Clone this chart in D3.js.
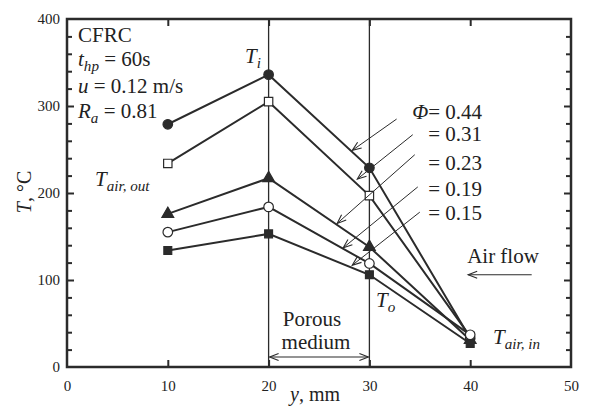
<!DOCTYPE html>
<html><head><meta charset="utf-8">
<script src="https://cdn.jsdelivr.net/npm/d3@7"></script>
<style>
html,body{margin:0;padding:0;background:#fff;}
svg{display:block;}
svg text{font-family:"Liberation Serif","DejaVu Serif",serif !important;}
</style></head>
<body>
<svg id="chart" width="593" height="411"></svg>
<script>
// ---- data ----
const yPositions = [10, 20, 30, 40];           // y, mm
const phiLabels = ["0.44", "0.31", "0.23", "0.19", "0.15"];
const tPhi044 = [279, 336, 229, 33];
const tPhi031 = [234, 305, 197, 35];
const tPhi023 = [176, 217, 138, 31];
const tPhi019 = [155, 184, 119, 37];
const tPhi015 = [134, 153, 106, 27];
const xTicks = [0, 10, 20, 30, 40, 50];
const yTicks = [0, 100, 200, 300, 400];
const yMinor = [20, 40, 60, 80, 120, 140, 160, 180, 220, 240, 260, 280, 320, 340, 360, 380];
const mediumBounds = [20, 30];
// annotation arrows for Φ labels (data units): [x1,y1,x2,y2]
const phiArrows = [
  [32.7, 285, 28.3, 249],
  [34.3, 267, 28.8, 216],
  [34.5, 244, 26.8, 165],
  [34.8, 207, 27.4, 137],
  [35.0, 178, 28.3, 117]
];

const seriesList = [
  {name: phiLabels[0], values: tPhi044, symbol: d3.symbolCircle, size: 72, filled: true},
  {name: phiLabels[1], values: tPhi031, symbol: d3.symbolSquare, size: 70, filled: false},
  {name: phiLabels[2], values: tPhi023, symbol: d3.symbolTriangle, size: 60, filled: true},
  {name: phiLabels[3], values: tPhi019, symbol: d3.symbolCircle, size: 72, filled: false},
  {name: phiLabels[4], values: tPhi015, symbol: d3.symbolSquare, size: 62, filled: true}
];

const ink = "#2b2b2b";
const FONT = "Liberation Serif, DejaVu Serif, serif";
const svg = d3.select("#chart");
svg.append("rect").attr("width", 593).attr("height", 411).attr("fill", "#fff");

const L = 67, R = 571, T = 19, B = 367;
const x = d3.scaleLinear().domain([0, 50]).range([L, R]);
const y = d3.scaleLinear().domain([0, 400]).range([B, T]);

const defs = svg.append("defs");
defs.append("marker").attr("id", "vhead").attr("viewBox", "-10 -5 12 10")
  .attr("refX", 0).attr("refY", 0).attr("markerWidth", 12).attr("markerHeight", 10)
  .attr("markerUnits", "userSpaceOnUse").attr("orient", "auto-start-reverse")
  .append("path").attr("d", "M-9,-3.5 L0,0 L-9,3.5").attr("fill", "none")
  .attr("stroke", ink).attr("stroke-width", 1.1);

// vertical lines marking porous medium
svg.selectAll(".vline").data(mediumBounds).enter().append("line")
  .attr("x1", d => x(d)).attr("x2", d => x(d)).attr("y1", T).attr("y2", B)
  .attr("stroke", ink).attr("stroke-width", 1.3);

// axes (ticks inward)
function styleAxis(g) {
  g.attr("font-family", FONT);
  g.select(".domain").remove();
  g.selectAll(".tick line").attr("stroke", ink).attr("stroke-width", 2);
  g.selectAll(".tick text").attr("fill", "#222").attr("font-size", 15)
   .attr("font-family", FONT);
}
svg.append("g").attr("transform", `translate(0,${B})`)
  .call(d3.axisBottom(x).tickValues(xTicks).tickSize(-7).tickPadding(13).tickFormat(d3.format("d")))
  .call(styleAxis)
  .call(g => g.selectAll(".tick line").filter(d => d === 0 || d === 50).remove());
svg.append("g").attr("transform", `translate(0,${T})`)
  .call(d3.axisTop(x).tickValues([10, 20, 30, 40]).tickSize(-7).tickFormat(""))
  .call(styleAxis);
svg.append("g").attr("transform", `translate(${L},0)`)
  .call(d3.axisLeft(y).tickValues(yTicks).tickSize(-7).tickPadding(7).tickFormat(d3.format("d")))
  .call(styleAxis)
  .call(g => g.selectAll(".tick line").filter(d => d === 0 || d === 400).remove());
svg.append("g").attr("transform", `translate(${L},0)`)
  .call(d3.axisLeft(y).tickValues(yMinor).tickSize(-5).tickFormat(""))
  .call(styleAxis);
svg.append("g").attr("transform", `translate(${R},0)`)
  .call(d3.axisRight(y).tickValues(yTicks.slice(1, 4)).tickSize(-7).tickFormat(""))
  .call(styleAxis);
svg.append("g").attr("transform", `translate(${R},0)`)
  .call(d3.axisRight(y).tickValues(yMinor).tickSize(-5).tickFormat(""))
  .call(styleAxis);

// frame
svg.append("rect").attr("x", L).attr("y", T).attr("width", R - L).attr("height", B - T)
  .attr("fill", "none").attr("stroke", ink).attr("stroke-width", 2.5);

// series lines
const line = d3.line().x((d, i) => x(yPositions[i])).y(d => y(d));
seriesList.forEach(s => {
  svg.append("path").datum(s.values).attr("d", line)
    .attr("fill", "none").attr("stroke", ink).attr("stroke-width", 2);
});
seriesList.forEach(s => {
  svg.append("g").selectAll("path").data(s.values).enter().append("path")
    .attr("transform", (d, i) => `translate(${x(yPositions[i])},${y(d)})`)
    .attr("d", d3.symbol().type(s.symbol).size(s.size))
    .attr("fill", s.filled ? ink : "#fff")
    .attr("stroke", ink).attr("stroke-width", 1.2);
});

// Φ annotation arrows
svg.selectAll(".phiArrow").data(phiArrows).enter().append("line")
  .attr("x1", d => x(d[0])).attr("y1", d => y(d[1]))
  .attr("x2", d => x(d[2])).attr("y2", d => y(d[3]))
  .attr("stroke", ink).attr("stroke-width", 1)
  .attr("marker-end", "url(#vhead)");

// porous medium double arrow
svg.append("line").attr("x1", x(mediumBounds[0]) + 1).attr("x2", x(mediumBounds[1]) - 1)
  .attr("y1", y(11.5)).attr("y2", y(11.5))
  .attr("stroke", ink).attr("stroke-width", 1.1)
  .attr("marker-start", "url(#vhead)").attr("marker-end", "url(#vhead)");

// air flow arrow
svg.append("line").attr("x1", x(46.1)).attr("x2", x(39.8))
  .attr("y1", y(106)).attr("y2", y(106))
  .attr("stroke", ink).attr("stroke-width", 1.1)
  .attr("marker-end", "url(#vhead)");

// ---- texts ----
const fs = 21;
function txt(xp, yp, parts, opts = {}) {
  const t = svg.append("text").attr("x", xp).attr("y", yp)
    .attr("font-family", FONT)
    .attr("font-size", opts.size || fs).attr("fill", "#222")
    .attr("text-anchor", opts.anchor || "start");
  if (opts.rotate) t.attr("transform", `rotate(${opts.rotate},${xp},${yp})`);
  parts.forEach(p => {
    const s = t.append("tspan").text(p.t);
    if (p.i) s.attr("font-style", "italic");
    if (p.sub) s.attr("dy", 5).attr("font-size", (opts.size || fs) * 0.72);
    if (p.up) s.attr("dy", -5);
  });
  return t;
}
txt(78, 42, [{t: "CFRC"}]);
txt(78, 66, [{t: "t", i: 1}, {t: "hp", i: 1, sub: 1}, {t: " = 60s", up: 1}]);
txt(78, 93, [{t: "u", i: 1}, {t: " = 0.12 m/s"}]);
txt(78, 118, [{t: "R", i: 1}, {t: "a", i: 1, sub: 1}, {t: " = 0.81", up: 1}]);
txt(95, 186, [{t: "T", i: 1}, {t: "air, out", i: 1, sub: 1}]);
txt(245, 63, [{t: "T", i: 1}, {t: "i", i: 1, sub: 1}]);
txt(376, 307, [{t: "T", i: 1}, {t: "o", i: 1, sub: 1}]);
txt(493, 344, [{t: "T", i: 1}, {t: "air, in", i: 1, sub: 1}]);
txt(482, 119, [{t: "Φ", i: 1}, {t: "= " + phiLabels[0]}], {anchor: "end"});
[141, 170, 196, 220].forEach((yy, k) => txt(482, yy, [{t: "= " + phiLabels[k + 1]}], {anchor: "end"}));
txt(312, 326, [{t: "Porous"}], {anchor: "middle"});
txt(316, 349, [{t: "medium"}], {anchor: "middle"});
txt(503, 263, [{t: "Air flow"}], {anchor: "middle"});
txt(315, 401, [{t: "y", i: 1}, {t: ", mm"}], {anchor: "middle", size: 20});
txt(31, 192, [{t: "T", i: 1}, {t: ", °C"}], {anchor: "middle", size: 20, rotate: -90});
</script>
</body></html>
